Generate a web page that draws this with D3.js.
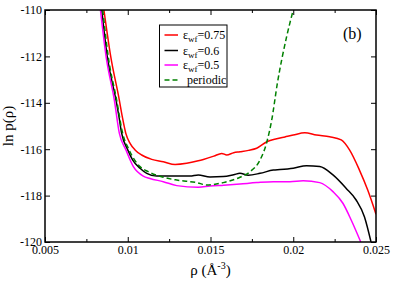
<!DOCTYPE html>
<html>
<head>
<meta charset="utf-8">
<script src="https://cdn.jsdelivr.net/npm/d3@7"></script>
<style>
  body { margin: 0; background: #fff; }
</style>
</head>
<body>
<div id="chart"></div>
<script>
  // ln p(rho) curves for different wall-fluid strengths, plus the periodic run
  const xTicks = [0.005, 0.01, 0.015, 0.02, 0.025],
    xTickLabels = ["0.005", "0.01", "0.015", "0.02", "0.025"],
    xMinorTicks = [0.0075, 0.0125, 0.0175, 0.0225],
    yTicks = [-120, -118, -116, -114, -112, -110];

  const seriesNames = ["0.75", "0.6", "0.5", "periodic"];

  const rho075 = [0.00856, 0.00897, 0.00949, 0.00967, 0.00988, 0.01014, 0.01044, 0.01084, 0.01145, 0.01215, 0.01286, 0.01356, 0.01426, 0.01457, 0.01520, 0.01568, 0.01598, 0.01640, 0.01678, 0.01730, 0.01779, 0.01840, 0.01900, 0.01950, 0.0200, 0.0207, 0.0214, 0.0222, 0.0229, 0.0234, 0.0240, 0.0245, 0.0250];
  const lnp075 = [-110, -112, -113.88, -114.6, -115.31, -115.75, -116.03, -116.25, -116.44, -116.54, -116.66, -116.61, -116.5, -116.44, -116.3, -116.18, -116.25, -116.15, -116.11, -116.05, -115.96, -115.68, -115.55, -115.47, -115.39, -115.29, -115.39, -115.46, -115.6, -116.03, -116.9, -117.76, -118.8];

  const rho06 = [0.00843, 0.00876, 0.00929, 0.00947, 0.00963, 0.0100, 0.0103, 0.01074, 0.01115, 0.01175, 0.01296, 0.01376, 0.01426, 0.01497, 0.01577, 0.01640, 0.01678, 0.01728, 0.01799, 0.0188, 0.0192, 0.0200, 0.0208, 0.0216, 0.0224, 0.0232, 0.0238, 0.0243, 0.0247];
  const lnp06 = [-110, -112, -113.88, -114.6, -115.31, -116.03, -116.47, -116.82, -117.04, -117.16, -117.16, -117.16, -117.11, -117.2, -117.18, -117.1, -117.04, -117.12, -117.04, -116.9, -116.88, -116.82, -116.71, -116.75, -117.11, -117.69, -118.19, -118.91, -120];

  const rho05 = [0.00835, 0.00869, 0.00919, 0.00949, 0.00989, 0.01034, 0.01094, 0.01134, 0.01215, 0.01296, 0.01426, 0.01497, 0.01580, 0.01678, 0.01779, 0.0188, 0.0198, 0.0206, 0.0216, 0.0224, 0.0230, 0.0235, 0.02408];
  const lnp05 = [-110, -112, -113.88, -115.31, -116.03, -116.75, -117.16, -117.26, -117.4, -117.57, -117.64, -117.59, -117.55, -117.5, -117.44, -117.4, -117.4, -117.36, -117.44, -117.83, -118.33, -119.05, -120];

  const rhoPer = [0.00849, 0.00882, 0.00933, 0.00969, 0.01008, 0.01074, 0.01124, 0.01215, 0.01296, 0.01417, 0.01477, 0.01577, 0.01678, 0.01739, 0.01799, 0.0184, 0.0187, 0.01904, 0.0196, 0.0200];
  const lnpPer = [-110, -112, -113.88, -115.31, -116.03, -116.75, -116.97, -117.21, -117.33, -117.44, -117.54, -117.44, -117.21, -116.97, -116.47, -115.7, -114.74, -113.16, -111.15, -110];

  const seriesRho = [rho075, rho06, rho05, rhoPer],
    seriesLnp = [lnp075, lnp06, lnp05, lnpPer],
    colors = ["#ff0000", "#000000", "#ff00ff", "#008000"];

  const serif = "'Liberation Serif', 'Times New Roman', Times, 'DejaVu Serif', serif";

  const margin = {top: 10, right: 18, bottom: 39, left: 45},
    width = 394 - margin.left - margin.right,
    height = 281 - margin.top - margin.bottom;

  const svg = d3.select("#chart").append("svg")
      .attr("width", 394)
      .attr("height", 281)
    .append("g")
      .attr("transform", "translate(" + margin.left + "," + margin.top + ")");

  const x = d3.scaleLinear().domain([0.005, 0.025]).range([0, width]);
  const y = d3.scaleLinear().domain([-120, -110]).range([height, 0]);

  svg.append("clipPath").attr("id", "clip")
    .append("rect").attr("width", width).attr("height", height);

  // curves
  const line = d3.line()
      .x((d) => x(d[0]))
      .y((d) => y(d[1]))
      .curve(d3.curveMonotoneX);

  seriesRho.forEach(function(rho, i){
    const pts = rho.map((r, j) => [r, seriesLnp[i][j]]);
    svg.append("path")
        .attr("clip-path", "url(#clip)")
        .attr("d", line(pts))
        .attr("fill", "none")
        .attr("stroke", colors[i])
        .attr("stroke-width", 1.5)
        .attr("stroke-dasharray", i === 3 ? "5,3" : null);
  });

  // axes, ticks pointing inside
  const xFmt = (d) => xTickLabels[xTicks.indexOf(d)];

  svg.append("g").attr("transform", "translate(0," + height + ")")
      .call(d3.axisBottom(x).tickValues(xTicks).tickFormat(xFmt).tickSize(-5).tickPadding(3));
  svg.append("g").attr("transform", "translate(0," + height + ")")
      .call(d3.axisBottom(x).tickValues(xMinorTicks).tickFormat("").tickSize(-3));
  svg.append("g")
      .call(d3.axisTop(x).tickValues(xTicks).tickFormat("").tickSize(-5));
  svg.append("g")
      .call(d3.axisTop(x).tickValues(xMinorTicks).tickFormat("").tickSize(-3));

  svg.append("g")
      .call(d3.axisLeft(y).tickValues(yTicks).tickFormat((d) => d).tickSize(-5).tickPadding(3));
  svg.append("g").attr("transform", "translate(" + width + ",0)")
      .call(d3.axisRight(y).tickValues(yTicks).tickFormat("").tickSize(-5));

  svg.selectAll(".domain").remove();
  svg.selectAll(".tick line").attr("stroke", "#000").attr("stroke-width", 1);
  svg.selectAll(".tick text")
      .attr("fill", "#000")
      .style("font-size", "12px");

  // frame
  svg.append("rect")
      .attr("width", width)
      .attr("height", height)
      .attr("fill", "none")
      .attr("stroke", "#000")
      .attr("stroke-width", 1.5);

  // axis titles
  svg.append("text")
      .attr("transform", "translate(" + (13 - margin.left) + "," + (height / 2) + ") rotate(-90)")
      .attr("text-anchor", "middle")
      .style("font-size", "15px")
      .text("ln p(\u03c1)");

  const xt = svg.append("text")
      .attr("x", width / 2)
      .attr("y", height + 33)
      .attr("text-anchor", "middle")
      .style("font-size", "15px");
  xt.append("tspan").text("\u03c1 (\u00c5");
  xt.append("tspan").attr("dy", -6).style("font-size", "10px").text("-3");
  xt.append("tspan").attr("dy", 6).text(")");

  svg.append("text")
      .attr("x", width - 33)
      .attr("y", 29)
      .style("font-size", "16px")
      .text("(b)");

  // legend
  const lg = svg.append("g").attr("transform", "translate(" + (159.5 - margin.left) + "," + (25 - margin.top) + ")");
  lg.append("rect")
      .attr("width", 67.5)
      .attr("height", 62)
      .attr("fill", "#fff")
      .attr("stroke", "#000")
      .attr("stroke-width", 1);

  const rowY = [10, 25.5, 40, 55];
  seriesNames.forEach(function(name, i){
    lg.append("line")
        .attr("x1", 5).attr("x2", 18.5)
        .attr("y1", rowY[i]).attr("y2", rowY[i])
        .attr("stroke", colors[i])
        .attr("stroke-width", 1.5)
        .attr("stroke-dasharray", i === 3 ? "5,3" : null);
    const t = lg.append("text")
        .attr("x", i === 3 ? 27.5 : 23.5)
        .attr("y", rowY[i] + 4)
        .style("font-size", "12px");
    if (i === 3) {
      t.text(name);
    } else {
      t.append("tspan").text("\u03b5");
      t.append("tspan").attr("dy", 3).style("font-size", "9px").text("wf");
      t.append("tspan").attr("dy", -3).text("=" + name);
    }
  });

  // serif everywhere, overriding the axis default
  svg.selectAll("text").style("font-family", serif);
</script>
</body>
</html>
